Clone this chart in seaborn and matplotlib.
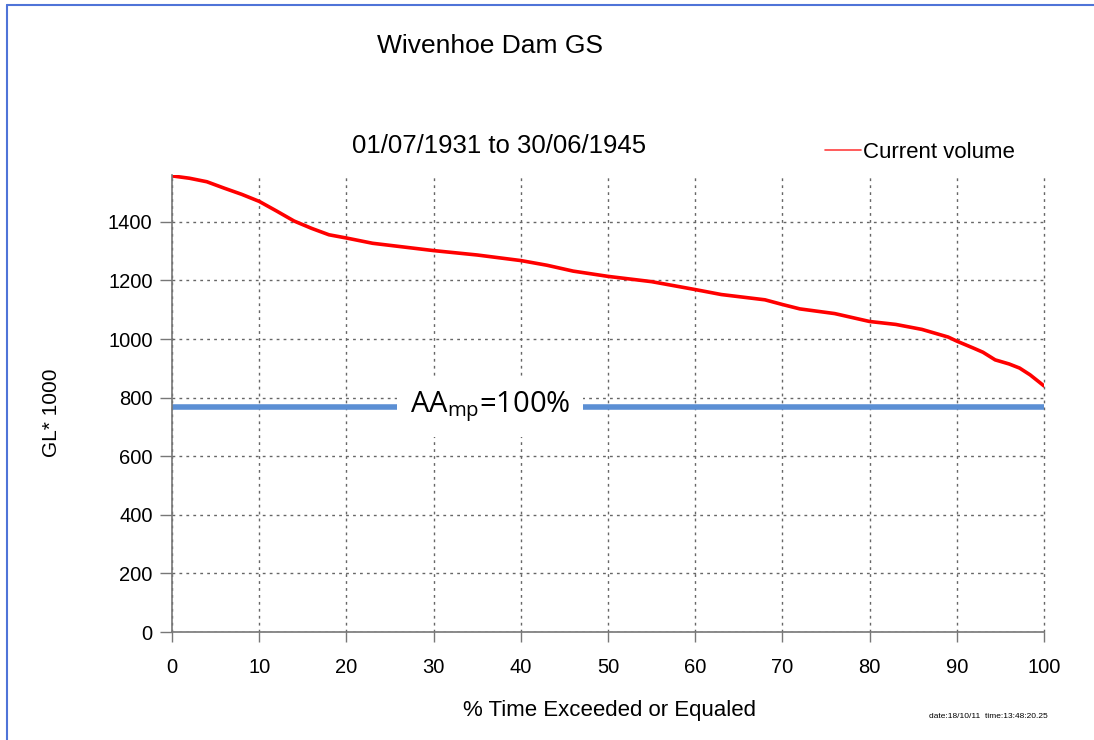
import numpy as np
import pandas as pd
import matplotlib
matplotlib.use("Agg")
import matplotlib.pyplot as plt
import seaborn as sns
from matplotlib.lines import Line2D

# data
pct_time = [0, 2, 4, 6, 8, 10, 12, 14, 16, 18, 20, 23, 30, 35, 40, 43, 46, 50,
            55, 60, 63, 68, 70, 72, 76, 80, 83, 86, 89, 90, 92, 93, 94.4, 96,
            97.2, 98.4, 99.5, 100]
volume = [1557, 1549, 1537, 1515, 1494, 1470, 1437, 1403, 1378, 1356, 1345,
          1327, 1302, 1287, 1268, 1252, 1232, 1214, 1196, 1169, 1152, 1134,
          1118, 1103, 1087, 1060, 1050, 1033, 1007, 993, 968, 955, 929, 915,
          901, 878, 852, 840]
aamp_level = 768
aamp_x = [0, 100]

title = "Wivenhoe Dam GS"
subtitle = "01/07/1931 to 30/06/1945"
stamp = "date:18/10/11  time:13:48:20.25"

sns.set_style("white")
plt.rcParams['font.family'] = ['Liberation Sans', 'DejaVu Sans']
plt.rcParams['text.color'] = 'black'

fig = plt.figure(figsize=(10.94, 7.40), dpi=100)
ax = fig.add_axes([0.1572, 0.1459, 0.7971, 0.6176])

df = pd.DataFrame({"pct": pct_time, "vol": volume})
sns.lineplot(data=df, x="pct", y="vol", ax=ax, color="#ff0000", lw=2.6,
             legend=False)
ax.plot(aamp_x, [aamp_level, aamp_level], color="#5b8fd4", lw=4,
        solid_capstyle="butt")
ax.text(36.5, aamp_level, r"AA$_{\mathregular{mp}}$=100%", fontsize=21,
        family="Open Sans", ha="center", va="center",
        bbox=dict(facecolor="white", edgecolor="none", pad=9))

ax.set_xlim(0, 100)
ax.set_ylim(0, 1560)
ax.set_xticks(np.arange(0, 101, 10))
ax.set_yticks(np.arange(0, 1401, 200))
ax.grid(True, color="#666666", lw=1, ls=(0, (2, 3)))
for gl in ax.get_xgridlines():
    gl.set_clip_on(False)
ax.tick_params(axis="both", direction="out", length=7, width=1,
               color="#777777", labelsize=14.5, pad=6, labelcolor="black",
               bottom=True, left=True)
ax.tick_params(axis="x", pad=12)
ax.tick_params(axis="y", length=9, pad=5)
for side in ["top", "right"]:
    ax.spines[side].set_visible(False)
for side in ["left", "bottom"]:
    ax.spines[side].set_color("#777777")
    ax.spines[side].set_linewidth(1.2)
ax.set_xlabel("")
ax.set_ylabel("")

fig.text(0.5575, 0.040, "% Time Exceeded or Equaled", fontsize=16,
         ha="center", va="center")
fig.text(0.047, 0.442, "GL* 1000", fontsize=15, rotation=90,
         ha="center", va="center")
fig.text(0.448, 0.938, title, fontsize=19, ha="center", va="center")
fig.text(0.456, 0.803, subtitle, fontsize=18.5, ha="center", va="center")
fig.text(0.903, 0.032, stamp, fontsize=6, ha="center", va="center")

handles = [Line2D([0], [0], color="#ff4040", lw=1.2)]
fig.legend(handles, ["Current volume"], loc="center left",
           bbox_to_anchor=(0.744, 0.794), frameon=False, fontsize=16,
           handlelength=1.6, handletextpad=0.1, borderpad=0)

# blue frame along top and left edge
fig.add_artist(Line2D([0.0065, 1], [0.9935, 0.9935], color="#4f74d8", lw=1.5,
                      transform=fig.transFigure))
fig.add_artist(Line2D([0.0065, 0.0065], [0, 0.9935], color="#4f74d8", lw=1.5,
                      transform=fig.transFigure))

fig.savefig("out.png", dpi=100)
